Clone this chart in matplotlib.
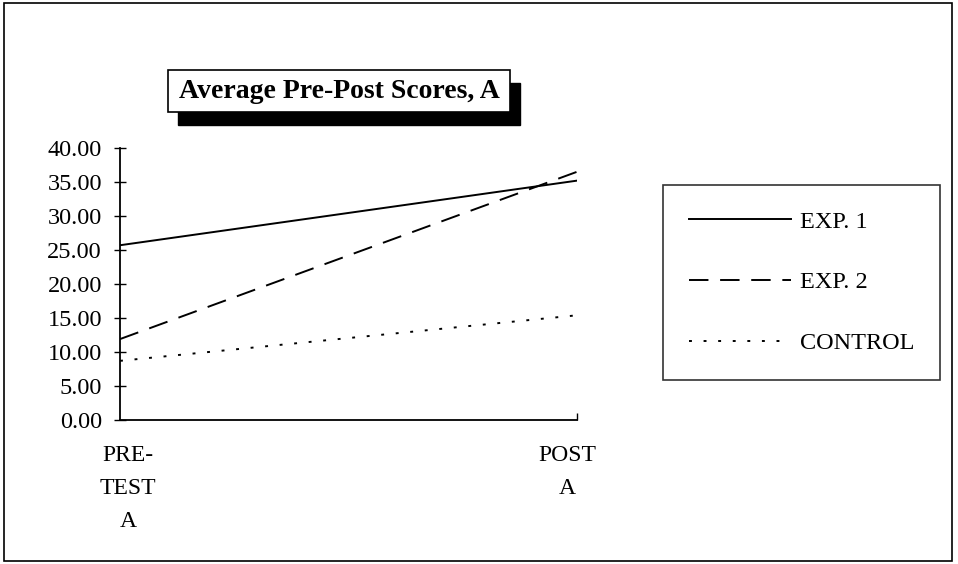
import matplotlib

matplotlib.use("Agg")
import matplotlib.pyplot as plt
from matplotlib.patches import Rectangle

# data
categories = ["PRE-\nTEST\nA", "POST\nA"]
exp1 = [25.7, 35.2]
exp2 = [11.9, 36.5]
control = [8.7, 15.4]
series_names = ["EXP. 1", "EXP. 2", "CONTROL"]
y_ticks = [0, 5, 10, 15, 20, 25, 30, 35, 40]

W, H = 958, 564
plt.rcParams["font.family"] = ["Liberation Serif", "DejaVu Serif"]

fig = plt.figure(figsize=(W / 100, H / 100), dpi=100)


def fx(px):
    return px / W


def fy(py):
    return 1 - py / H


# outer frame
fig.patches.append(Rectangle((fx(4), fy(561)), fx(948), 558 / H, transform=fig.transFigure,
                             fill=False, edgecolor="black", linewidth=1.2))

ax = fig.add_axes([fx(120), fy(420), fx(577 - 120), (420 - 148) / H])
x = [0, 1]
ax.plot(x, exp1, color="black", linewidth=1.4, linestyle="-", label=series_names[0])
ax.plot(x, exp2, color="black", linewidth=1.4, linestyle=(0, (10, 6)), label=series_names[1])
ax.plot(x, control, color="black", linewidth=1.4, linestyle=(0, (1.5, 6)), label=series_names[2])

ax.set_xlim(0, 1)
ax.set_ylim(0, 40)
ax.set_yticks(y_ticks)
ax.set_yticklabels([f"{v:.2f}" for v in y_ticks], fontsize=17.5)
# category labels sit a little inward from the axis ends; the only x tick mark is at the end
ax.set_xticks([0.018, 0.978])
ax.set_xticklabels(categories, fontsize=17, linespacing=1.75)
ax.set_xticks([1], minor=True)
ax.tick_params(axis="y", direction="inout", length=8, width=1, pad=9)
ax.tick_params(axis="x", which="major", length=0, pad=18)
ax.tick_params(axis="x", which="minor", direction="in", length=5, width=1)
for side in ("top", "right"):
    ax.spines[side].set_visible(False)
for side in ("left", "bottom"):
    ax.spines[side].set_linewidth(1.3)

# title box with drop shadow
bx0, by0, bx1, by1 = 168, 70, 510, 112
fig.patches.append(Rectangle((fx(bx0 + 10), fy(by1 + 13)), fx(bx1 - bx0), (by1 - by0) / H,
                             transform=fig.transFigure, facecolor="black", edgecolor="black"))
fig.patches.append(Rectangle((fx(bx0), fy(by1)), fx(bx1 - bx0), (by1 - by0) / H,
                             transform=fig.transFigure, facecolor="white", edgecolor="black",
                             linewidth=1.2))
fig.text(fx((bx0 + bx1) / 2), fy((by0 + by1) / 2), "Average Pre-Post Scores, A",
         ha="center", va="center", fontsize=20, fontweight="bold")

leg = fig.legend(loc="upper left", bbox_to_anchor=(fx(663), fy(185)), borderaxespad=0,
                 fontsize=17.5, handlelength=4.2, handletextpad=0.4, labelspacing=1.6,
                 borderpad=1.05, fancybox=False, frameon=True)
leg.get_frame().set_edgecolor("black")
leg.get_frame().set_linewidth(1.2)

fig.savefig("out.png", dpi=100)
